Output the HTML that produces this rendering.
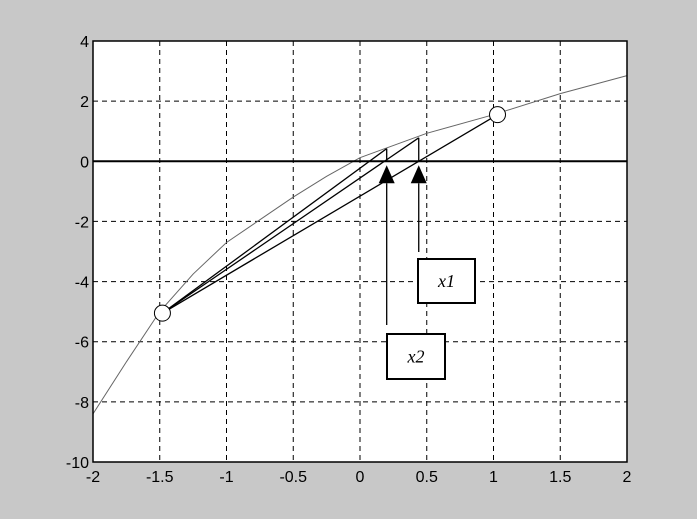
<!DOCTYPE html>
<html><head><meta charset="utf-8"><style>
html,body{margin:0;padding:0;background:#c8c8c8;}
svg{display:block;}
</style></head><body>
<svg width="697" height="519" xmlns="http://www.w3.org/2000/svg">
<rect x="0" y="0" width="697" height="519" fill="#c8c8c8"/>
<rect x="93" y="41" width="534" height="421" fill="#fff"/>
<g id="grid"></g>
<g id="marks"></g>
<g id="axes"></g>
</svg>
<script>
const xTicks=[-2,-1.5,-1,-0.5,0,0.5,1,1.5,2];
const yTicks=[4,2,0,-2,-4,-6,-8,-10];
const curveX=[-2,-1.75,-1.5,-1.25,-1,-0.5,-0.25,0,0.5,1,1.5,2];
const curveY=[-8.4,-6.67,-5.0,-3.75,-2.7,-1.19,-0.5,0.12,0.93,1.55,2.25,2.85];
const pointA=[-1.48,-5.05];
const pointB=[1.03,1.55];
const x1Top=[0.44,0.78];
const x2Top=[0.2,0.42];
const L=93,R=627,T=41,B=462;
const sx=v=>L+(v+2)/4*(R-L);
const sy=v=>T+(4-v)/14*(B-T);
const NS="http://www.w3.org/2000/svg";
function mk(tag,attrs,parent){const e=document.createElementNS(NS,tag);for(const k in attrs)e.setAttribute(k,attrs[k]);document.getElementById(parent).appendChild(e);return e;}
xTicks.forEach(t=>{if(t>-2&&t<2){const g=mk('line',{x1:sx(t),x2:sx(t),y1:T,y2:B,stroke:'#000','stroke-dasharray':'5,4','stroke-width':1},'grid');

}});
yTicks.forEach(t=>{if(t>-10&&t<4){const g=mk('line',{x1:L,x2:R,y1:sy(t),y2:sy(t),stroke:'#000','stroke-dasharray':'5,4','stroke-width':1},'grid');

}});
const curve=mk('polyline',{points:curveX.map((x,i)=>sx(x)+','+sy(curveY[i])).join(' '),fill:'none',stroke:'#666','stroke-width':1},'marks');


const z=mk('line',{x1:L,x2:R,y1:sy(0),y2:sy(0),stroke:'#000','stroke-width':2},'marks');


[[pointA,pointB],[pointA,x1Top],[pointA,x2Top]].forEach(([p,q])=>{const s=mk('line',{x1:sx(p[0]),y1:sy(p[1]),x2:sx(q[0]),y2:sy(q[1]),stroke:'#000','stroke-width':1.3},'marks');

});
[x1Top,x2Top].forEach(p=>{const v=mk('line',{x1:sx(p[0]),x2:sx(p[0]),y1:sy(0),y2:sy(p[1]),stroke:'#000','stroke-width':1.3},'marks');

});
[pointA,pointB].forEach(p=>{const c=mk('circle',{cx:sx(p[0]),cy:sy(p[1]),r:8,fill:'#fff',stroke:'#000','stroke-width':1},'marks');

});
[[x1Top[0],252,'x1',418,259,57,44],[x2Top[0],325,'x2',387,334,58,45]].forEach(([xv,yEnd,lab,bx,by,bw,bh])=>{
const ax=sx(xv),ty=sy(0)+4;
const tri=mk('polygon',{points:`${ax},${ty} ${ax-8},${ty+18} ${ax+8},${ty+18}`,fill:'#000'},'marks');


const ln=mk('line',{x1:ax,x2:ax,y1:ty+18,y2:yEnd,stroke:'#000','stroke-width':1.3},'marks');


const r=mk('rect',{x:bx,y:by,width:bw,height:bh,fill:'#fff',stroke:'#000','stroke-width':2},'marks');


const t=mk('text',{x:bx+bw/2,y:by+bh/2+6,'text-anchor':'middle','font-family':'Liberation Serif, serif','font-style':'italic','font-size':18,fill:'#000'},'marks');
t.textContent=lab;


});
const fr=mk('rect',{x:L,y:T,width:R-L,height:B-T,fill:'none',stroke:'#000','stroke-width':1.5},'axes');


xTicks.forEach(t=>{const tx=mk('text',{x:sx(t),y:B+20,'text-anchor':'middle','font-family':'Liberation Sans, sans-serif','font-size':16,fill:'#000'},'axes');
tx.textContent=String(t);

});
yTicks.forEach(t=>{const ty=mk('text',{x:L-4,y:sy(t)+6,'text-anchor':'end','font-family':'Liberation Sans, sans-serif','font-size':16,fill:'#000'},'axes');
ty.textContent=String(t);

});
</script>
</body></html>
